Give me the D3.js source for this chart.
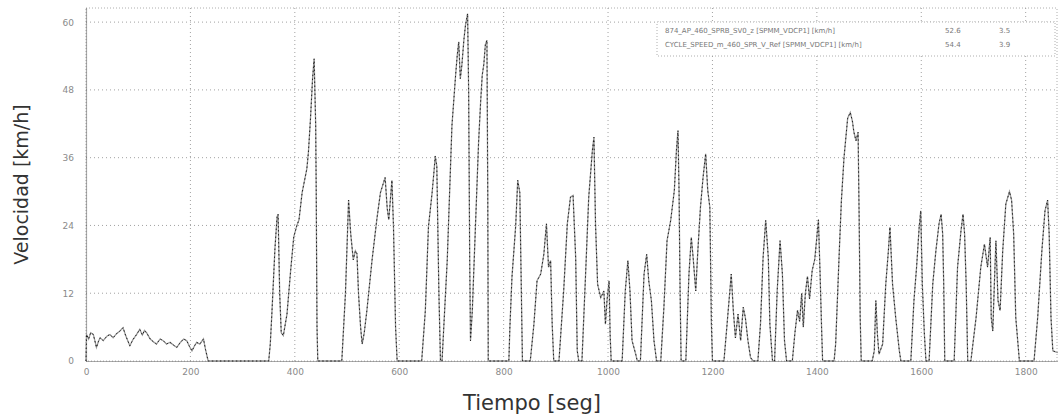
<!DOCTYPE html>
<html>
<head>
<meta charset="utf-8">
<script src="https://cdn.jsdelivr.net/npm/d3@7"></script>
<style>
  body { margin: 0; background: #fff; }
  svg { display: block; }
</style>
</head>
<body>
<svg id="chart"></svg>
<script>
// tiempo [seg] / velocidad [km/h]
const timeSec = [
  0,1,5,9,14,18,20,24,27,33,40,46,52,58,65,71,76,80,84,90,97,103,108,112,116,123,129,135,142,148,154,161,168,174,180,187,193,198,203,208,212,218,225,229,234,
  350,353,356,362,366,368,371,374,378,385,392,398,404,408,414,423,426,430,434,437,440,441,442.5,444,
  490,497,503,507,512,516,519,522,526,529,533,538,548,557,564,568,573,577,580,586,589,593,596,
  643,650,656,663,667,669,672,676,679,682,692,701,708,711,714,717,720,724,727,731,733,735,736.5,740,746,752,756,759,762,765,768,769.6,770.5,
  810,812,816,823,827,831,833,836,
  851,858,864,871,877,882,886,890,893,896,
  906,915,922,928,933,938,941,944,
  950,957,963,970,973,976,980,986,992,995,998,1002,1004,1006,
  1027,1033,1038,1042,1046,1053,1056,
  1062,1069,1074,1078,1083,1088,1093,
  1101,1107,1113,1120,1127,1131,1134,1136,1138,1140,
  1149,1155,1159.5,1163,1168,1172,1177,1182,1187,1191,1195,1198,1200,
  1222,1228,1236,1240,1244,1249,1254,1259,1263,1268,1273,1278,
  1287,1292,1297,1302,1307,1310,1315,
  1319,1324,1329.5,1334,1338,1342,
  1353,1358,1363,1367,1371,1374,1378,1382,1386,1391,1396,1400,1403,1406,1409,1411,
  1433,1436,1443,1447,1452,1459,1464,1468,1471,1475,1479,1481,1483,1485,
  1506,1510,1513,1516,1519,1526,1532,1537,1540,1545,1551,1558,1561,
  1580,1586,1591,1596,1599,1602,1606,1609,
  1615,1622,1628,1634,1638,1641,1643,1645,
  1663,1669.5,1676,1680,1683,1686,1689,
  1695,1705,1714,1721,1727,1732,1734,1737,1740,1743,1747,1751,1756,1762,1769,1773,1777,1781,1788,
  1816,1823,1831,1837,1842,1845,1848.5,1852,1861
];
const speedKmh = [
  0,4.7,3.9,5.0,4.7,3.2,2.4,3.5,4.1,3.6,4.4,4.7,4.1,4.8,5.3,5.9,4.5,3.6,2.7,3.8,4.7,5.6,4.6,5.4,5.0,3.9,3.4,3.0,3.9,3.6,3.0,3.3,2.8,2.4,3.2,3.9,3.6,2.6,1.8,2.7,3.3,3.0,3.9,2.0,0,
  0,3,8.3,20,25.5,26,12,5,4.5,8.3,16,22,24,25,29.8,34,36.9,42.9,50,53.5,41.7,29.8,6,0,
  0,12,28.5,22.6,17.9,19.5,19,12,6,3,5,8.9,17.9,25,29.8,31,32.5,27,25,32,23.8,6,0,
  0,8.9,23.8,29.8,34,36.3,34.5,12,0,0,17.9,41.7,50.6,54,56.5,50,52.4,57,59.5,61.5,47.6,17.9,3.6,8.9,23.8,38.7,46,50.6,52.5,56,56.8,29.8,0,
  0,6,14.9,23.8,32,29.8,17.9,0,
  0,6.5,14.2,15.4,18.9,24.3,16.6,17.8,6.5,0,
  0,12.4,24.3,29,29.3,18.3,1.8,0,
  0,15.4,29,37.3,39.6,24.3,13.6,11.2,12.4,6.5,10.7,14.2,4.7,0,
  0,12.4,17.8,12.4,3.6,1.2,0,
  0,15.4,18.9,14.2,10.7,3.6,0,
  0,9.5,21.3,24.9,30.2,37.3,40.8,30.2,12.4,0,
  0,15.4,21.9,18.3,12.4,19.5,27.2,32.5,36.7,30.2,27.2,6.5,0,
  0,6.5,15.4,8.9,4.1,8.3,3.6,9.5,7.7,3.6,0.6,0,
  0,6.5,18.3,24.9,18.3,6.5,0,
  0,12.4,21.3,15.4,3.6,0,
  0,5,9,7,12,6,12,15,11,16,18,22,25,16,6,0,
  0,3,19.5,28.4,36,43,44,42.5,40.5,39,40.5,25.4,7.7,0,
  0,1.8,10.7,4.7,1.2,3,13.6,19.5,23.7,13.6,7.7,1.8,0,
  0,10.7,16.6,23.7,26.6,13.6,4.7,0,
  0,13.6,19.5,24.3,26,22.5,13.6,0,
  0,16.6,23,26,22.5,13.6,0,
  0,7.7,16.6,20.7,16.6,21.9,7.7,5.3,13.6,21.3,10.7,8.9,19.5,27.8,30,28.5,22.5,7.7,0,
  0,7.7,19.5,26.6,28.5,22.5,7.7,1.8,1.5
];
const xTicks = [0, 200, 400, 600, 800, 1000, 1200, 1400, 1600, 1800];
const yTicks = [0, 12, 24, 36, 48, 60];
const legendNames = ["874_AP_460_SPRB_SV0_z [SPMM_VDCP1] [km/h]", "CYCLE_SPEED_m_460_SPR_V_Ref [SPMM_VDCP1] [km/h]"];
const legendMax = ["52.6", "54.4"];
const legendMin = ["3.5", "3.9"];

const W = 1060, H = 417;
const margin = { top: 8, right: 3, bottom: 56, left: 86 };
const iw = W - margin.left - margin.right;
const ih = H - margin.top - margin.bottom;

const svg = d3.select("#chart").attr("width", W).attr("height", H);
const g = svg.append("g").attr("transform", "translate(" + margin.left + "," + margin.top + ")");

const x = d3.scaleLinear().domain([0, 1860]).range([0, iw]);
const y = d3.scaleLinear().domain([0, 62.5]).range([ih, 0]);

const data = timeSec.map((t, i) => ({ t: t, v: speedKmh[i] }));

// grid
g.append("g")
  .selectAll("line")
  .data(xTicks.slice(1))
  .enter().append("line")
  .attr("x1", d => x(d)).attr("x2", d => x(d))
  .attr("y1", 0).attr("y2", ih)
  .attr("stroke", "#8a8a8a").attr("stroke-width", 0.8)
  .attr("stroke-dasharray", "1,3");

g.append("g")
  .selectAll("line")
  .data(yTicks.slice(1))
  .enter().append("line")
  .attr("x1", 0).attr("x2", iw)
  .attr("y1", d => y(d)).attr("y2", d => y(d))
  .attr("stroke", "#8a8a8a").attr("stroke-width", 0.8)
  .attr("stroke-dasharray", "1,3");

// frame
g.append("rect")
  .attr("width", iw).attr("height", ih)
  .attr("fill", "none")
  .attr("stroke", "#9a9a9a").attr("stroke-width", 0.8)
  .attr("stroke-dasharray", "1,2");

// axes
const xAxis = g.append("g")
  .attr("transform", "translate(0," + ih + ")")
  .call(d3.axisBottom(x).tickValues(xTicks).tickFormat(d3.format("d")).tickSize(0).tickPadding(8));
const yAxis = g.append("g")
  .call(d3.axisLeft(y).tickValues(yTicks).tickFormat(d3.format("d")).tickSize(0).tickPadding(12));

[xAxis, yAxis].forEach(a => {
  a.select(".domain").attr("stroke", "#555").attr("stroke-width", 1.2).attr("stroke-dasharray", "1,1");
  a.selectAll("text")
    .attr("fill", "#8a8a8a")
    .style("font-family", "'DejaVu Sans', sans-serif")
    .style("font-size", "9px");
});

// series lines
const line = d3.line().x(d => x(d.t)).y(d => y(d.v));

g.append("path")
  .datum(data)
  .attr("fill", "none")
  .attr("stroke", "#9a9a9a")
  .attr("stroke-width", 1.3)
  .attr("d", line);

g.append("path")
  .datum(data)
  .attr("fill", "none")
  .attr("stroke", "#111")
  .attr("stroke-width", 0.9)
  .attr("stroke-dasharray", "1.5,2.5")
  .attr("d", line);

// legend
const lg = svg.append("g").attr("transform", "translate(657,22)");
lg.append("rect")
  .attr("width", 398).attr("height", 34)
  .attr("fill", "#fff")
  .attr("stroke", "#999").attr("stroke-width", 0.8)
  .attr("stroke-dasharray", "1,2");

legendNames.forEach((name, i) => {
  const row = lg.append("g").attr("transform", "translate(0," + (11 + i * 14) + ")");
  row.append("text").attr("x", 8).text(name);
  row.append("text").attr("x", 288).text(legendMax[i]);
  row.append("text").attr("x", 342).text(legendMin[i]);
});
lg.selectAll("text")
  .attr("fill", "#777")
  .style("font-family", "'DejaVu Sans', sans-serif")
  .style("font-size", "7px");

// axis titles
svg.append("text")
  .attr("transform", "translate(28," + (margin.top + ih / 2) + ") rotate(-90)")
  .attr("text-anchor", "middle")
  .attr("fill", "#333")
  .style("font-family", "'DejaVu Sans', sans-serif")
  .style("font-size", "19px")
  .text("Velocidad [km/h]");

svg.append("text")
  .attr("x", 532).attr("y", 410)
  .attr("text-anchor", "middle")
  .attr("fill", "#333")
  .style("font-family", "'DejaVu Sans', sans-serif")
  .style("font-size", "21px")
  .text("Tiempo [seg]");
</script>
</body>
</html>
